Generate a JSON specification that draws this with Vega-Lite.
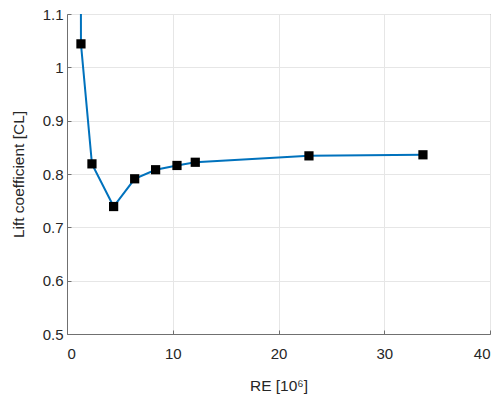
{
  "$schema": "https://vega.github.io/schema/vega-lite/v6.json",
  "width": 423,
  "height": 320,
  "autosize": "none",
  "padding": {"left": 67, "top": 14, "right": 13, "bottom": 62},
  "background": "white",
  "config": {
    "font": "Liberation Sans",
    "view": {"stroke": "#707070", "strokeWidth": 1},
    "axis": {
      "domainColor": "#707070",
      "tickColor": "#707070",
      "gridColor": "#e6e6e6",
      "labelFont": "Liberation Sans",
      "titleFont": "Liberation Sans",
      "labelFontSize": 15,
      "titleFontSize": 15.5,
      "labelColor": "#262626",
      "titleColor": "#262626",
      "titleFontWeight": "normal",
      "tickSize": -4
    }
  },
  "datasets": {
    "pts": [
      {"re": 1.32, "cl": 1.044},
      {"re": 2.36, "cl": 0.819},
      {"re": 4.41, "cl": 0.739},
      {"re": 6.4, "cl": 0.791},
      {"re": 8.38, "cl": 0.808},
      {"re": 10.4, "cl": 0.816},
      {"re": 12.13, "cl": 0.822},
      {"re": 22.88, "cl": 0.834},
      {"re": 33.66, "cl": 0.836}
    ],
    "line": [
      {"re": 1.28, "cl": 1.6},
      {"re": 1.32, "cl": 1.044},
      {"re": 2.36, "cl": 0.819},
      {"re": 4.41, "cl": 0.739},
      {"re": 6.4, "cl": 0.791},
      {"re": 8.38, "cl": 0.808},
      {"re": 10.4, "cl": 0.816},
      {"re": 12.13, "cl": 0.822},
      {"re": 22.88, "cl": 0.834},
      {"re": 33.66, "cl": 0.836}
    ]
  },
  "layer": [
    {
      "data": {"name": "line"},
      "mark": {"type": "line", "color": "#0072BD", "strokeWidth": 2, "clip": true},
      "encoding": {
        "x": {"field": "re", "type": "quantitative", "scale": {"domain": [0, 40], "nice": false},
          "axis": {"title": "RE [10⁶]", "values": [0, 10, 20, 30, 40], "format": "d", "labelPadding": 16, "titlePadding": 17, "grid": true}},
        "y": {"field": "cl", "type": "quantitative", "scale": {"domain": [0.5, 1.1], "nice": false, "zero": false},
          "axis": {"title": "Lift coefficient [CL]", "values": [0.5, 0.6, 0.7, 0.8, 0.9, 1.0, 1.1], "format": ".2~f", "labelPadding": 8, "titlePadding": 16, "grid": true}},
        "order": {"field": "re", "type": "quantitative"}
      }
    },
    {
      "data": {"name": "pts"},
      "mark": {"type": "point", "shape": "square", "filled": true, "color": "black", "opacity": 1, "size": 85},
      "encoding": {
        "x": {"field": "re", "type": "quantitative"},
        "y": {"field": "cl", "type": "quantitative"}
      }
    }
  ]
}
